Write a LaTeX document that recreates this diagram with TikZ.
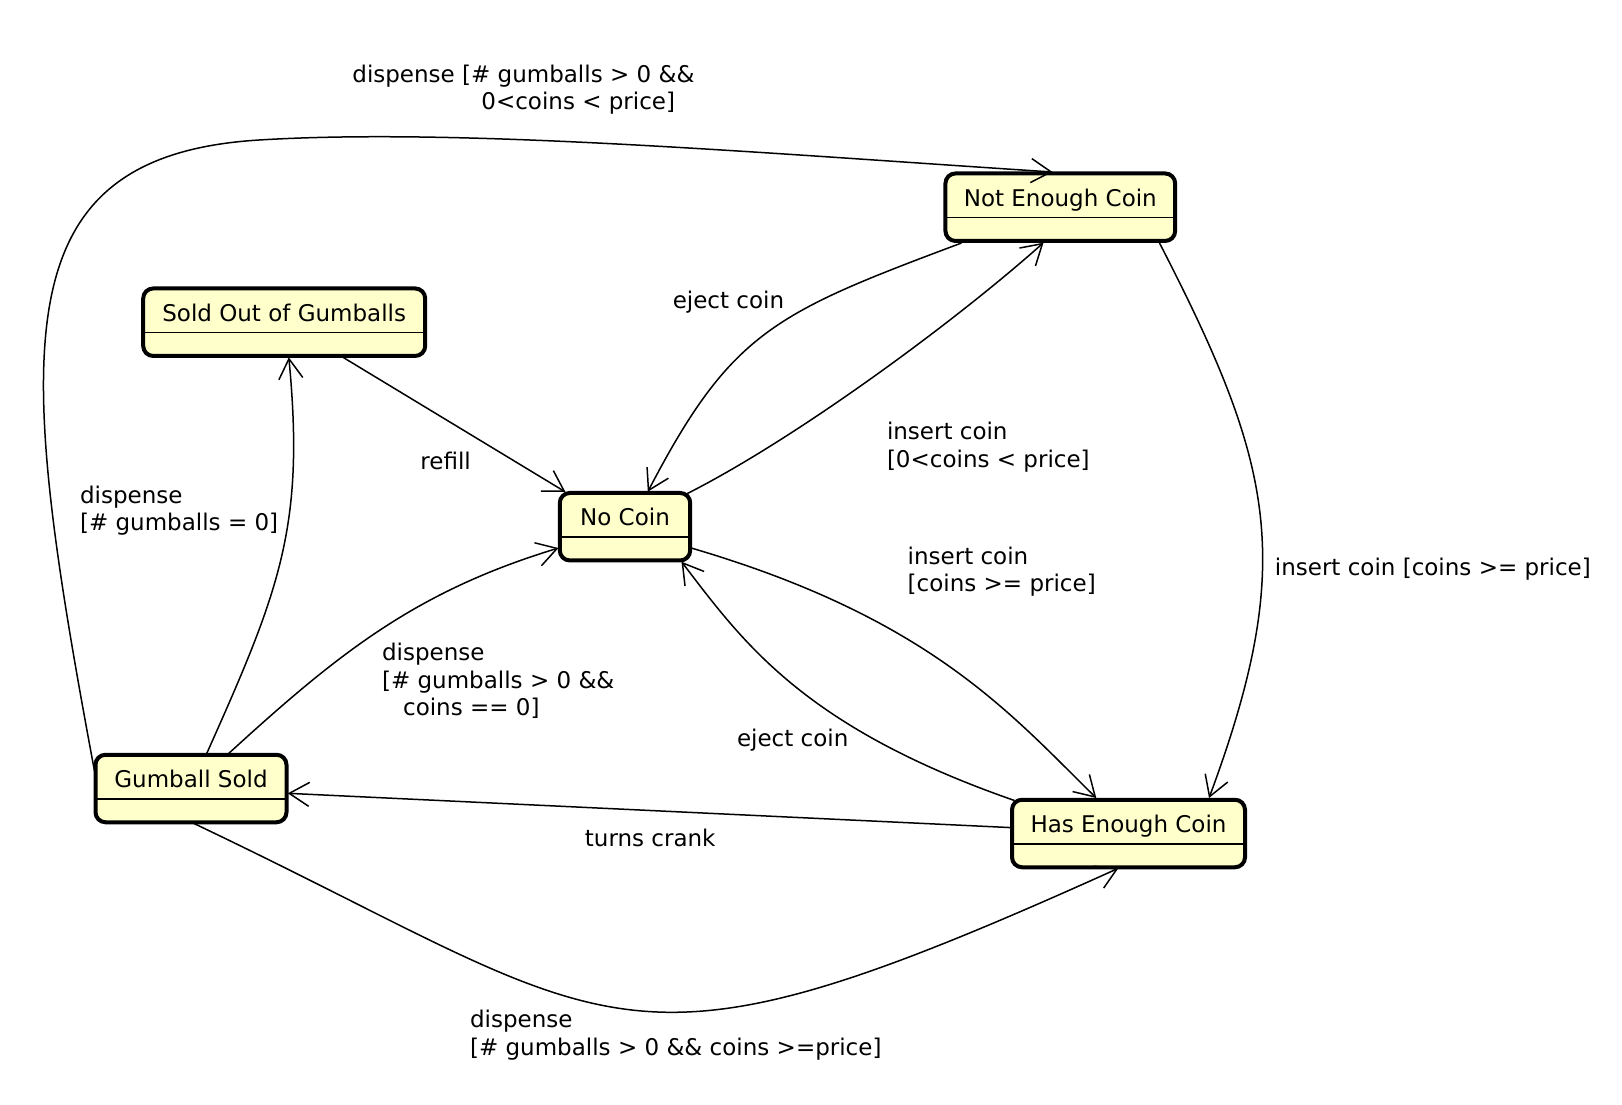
\documentclass[tikz,border=0pt]{standalone}
\usepackage{fontspec}
\setmainfont{DejaVu Sans}
\usetikzlibrary{arrows.meta}
\definecolor{stateyellow}{HTML}{FFFFCC}
\begin{document}
\begin{tikzpicture}[x=0.5pt,y=-0.5pt,
  every node/.style={font=\fontsize{11.5pt}{13.75pt}\selectfont},
  state/.style={draw, line width=2pt, rounded corners=5pt, fill=stateyellow,
    inner xsep=0pt, inner ysep=0pt, text height=16.5pt, text depth=17.25pt,
    path picture={\draw[line width=0.8pt]
      ([yshift=-22pt]path picture bounding box.north west) --
      ([yshift=-22pt]path picture bounding box.north east);}},
  conn/.style={line width=0.75pt, -{Straight Barb[length=10pt,width=12pt]}},
  lbl/.style={inner sep=0pt, anchor=base west, align=left}]
\useasboundingbox[fill=white] (0,0) rectangle (1622,1104);

% states
\node[state, minimum width=114.85pt] (nec) at (1060.3,207.2) {Not Enough Coin};
\node[state, minimum width=141pt]    (sog) at (284.2,322.2)  {Sold Out of Gumballs};
\node[state, minimum width=65.2pt]   (nc)  at (625,526.7)    {No Coin};
\node[state, minimum width=95.5pt]   (gs)  at (191,788.5)    {Gumball Sold};
\node[state, minimum width=116.5pt]  (hec) at (1128.5,833.5) {Has Enough Coin};

% transitions
\draw[conn] ([shift={(-96.5,-17.5)}]gs.center) .. controls (16,351) and (-1,156) .. (259,140)
  .. controls (459,127.7) and (755,152.6) .. ([shift={(-7.8,-35.2)}]nec.center);
\draw[conn] ([shift={(15.5,-34.5)}]gs.center) .. controls (280,589.5) and (305,526.6) .. ([shift={(4.6,35.1)}]sog.center);
\draw[conn] ([shift={(58.3,34.8)}]sog.center) -- ([shift={(-59.5,-34.7)}]nc.center);
\draw[conn] ([shift={(37.1,-34.5)}]gs.center) .. controls (339,652.6) and (415.5,591.5) .. ([shift={(-66.5,21.3)}]nc.center);
\draw[conn] ([shift={(-98.8,35.8)}]nec.center) .. controls (774.6,313) and (731.3,331.5) .. ([shift={(22.8,-35)}]nc.center);
\draw[conn] ([shift={(62,-33)}]nc.center) .. controls (796,438.6) and (954.6,322) .. ([shift={(-16.8,35.5)}]nec.center);
\draw[conn] ([shift={(66.2,21.3)}]nc.center) .. controls (930,618) and (1010.6,714) .. ([shift={(-32.2,-35.5)}]hec.center);
\draw[conn] ([shift={(-114,-33)}]hec.center) .. controls (803,727) and (743,642) .. ([shift={(56.5,35)}]nc.center);
\draw[conn] ([shift={(99.2,35.8)}]nec.center) .. controls (1274,465.5) and (1296.75,561.5) .. ([shift={(80.5,-35.5)}]hec.center);
\draw[conn] ([shift={(-117.5,-5.9)}]hec.center) -- ([shift={(96.8,4.8)}]gs.center);
\draw[conn] ([shift={(3,35)}]gs.center) .. controls (628.4,1030) and (609.7,1097.9) .. ([shift={(-10.2,34.8)}]hec.center);

% transition labels (anchored at the baseline of their last line)
\node[lbl] (l1)  at (352,109.5)   {dispense [\# gumballs > 0 \&\&\\\hspace*{64.5pt}0<coins < price]};
\node[lbl] (l2)  at (79.7,530.5)  {dispense\\[0pt][\# gumballs = 0]};
\node[lbl] (l3)  at (420,469.5)   {refill};
\node[lbl] (l4)  at (381.7,715.7) {dispense\\[0pt][\# gumballs > 0 \&\&\\\hspace*{10.5pt}coins == 0]};
\node[lbl] (l5)  at (672.4,308.5) {eject coin};
\node[lbl] (l6)  at (886.6,467.4) {insert coin\\[0pt][0<coins < price]};
\node[lbl] (l7)  at (907.3,591.5) {insert coin\\[0pt][coins >= price]};
\node[lbl] (l8)  at (736.6,746.1) {eject coin};
\node[lbl] (l9)  at (1274.5,575.5) {insert coin [coins >= price]};
\node[lbl] (l10) at (584.5,846.5) {turns crank};
\node[lbl] (l11) at (469.7,1055)  {dispense\\[0pt][\# gumballs > 0 \&\& coins >=price]};
\end{tikzpicture}
\end{document}
